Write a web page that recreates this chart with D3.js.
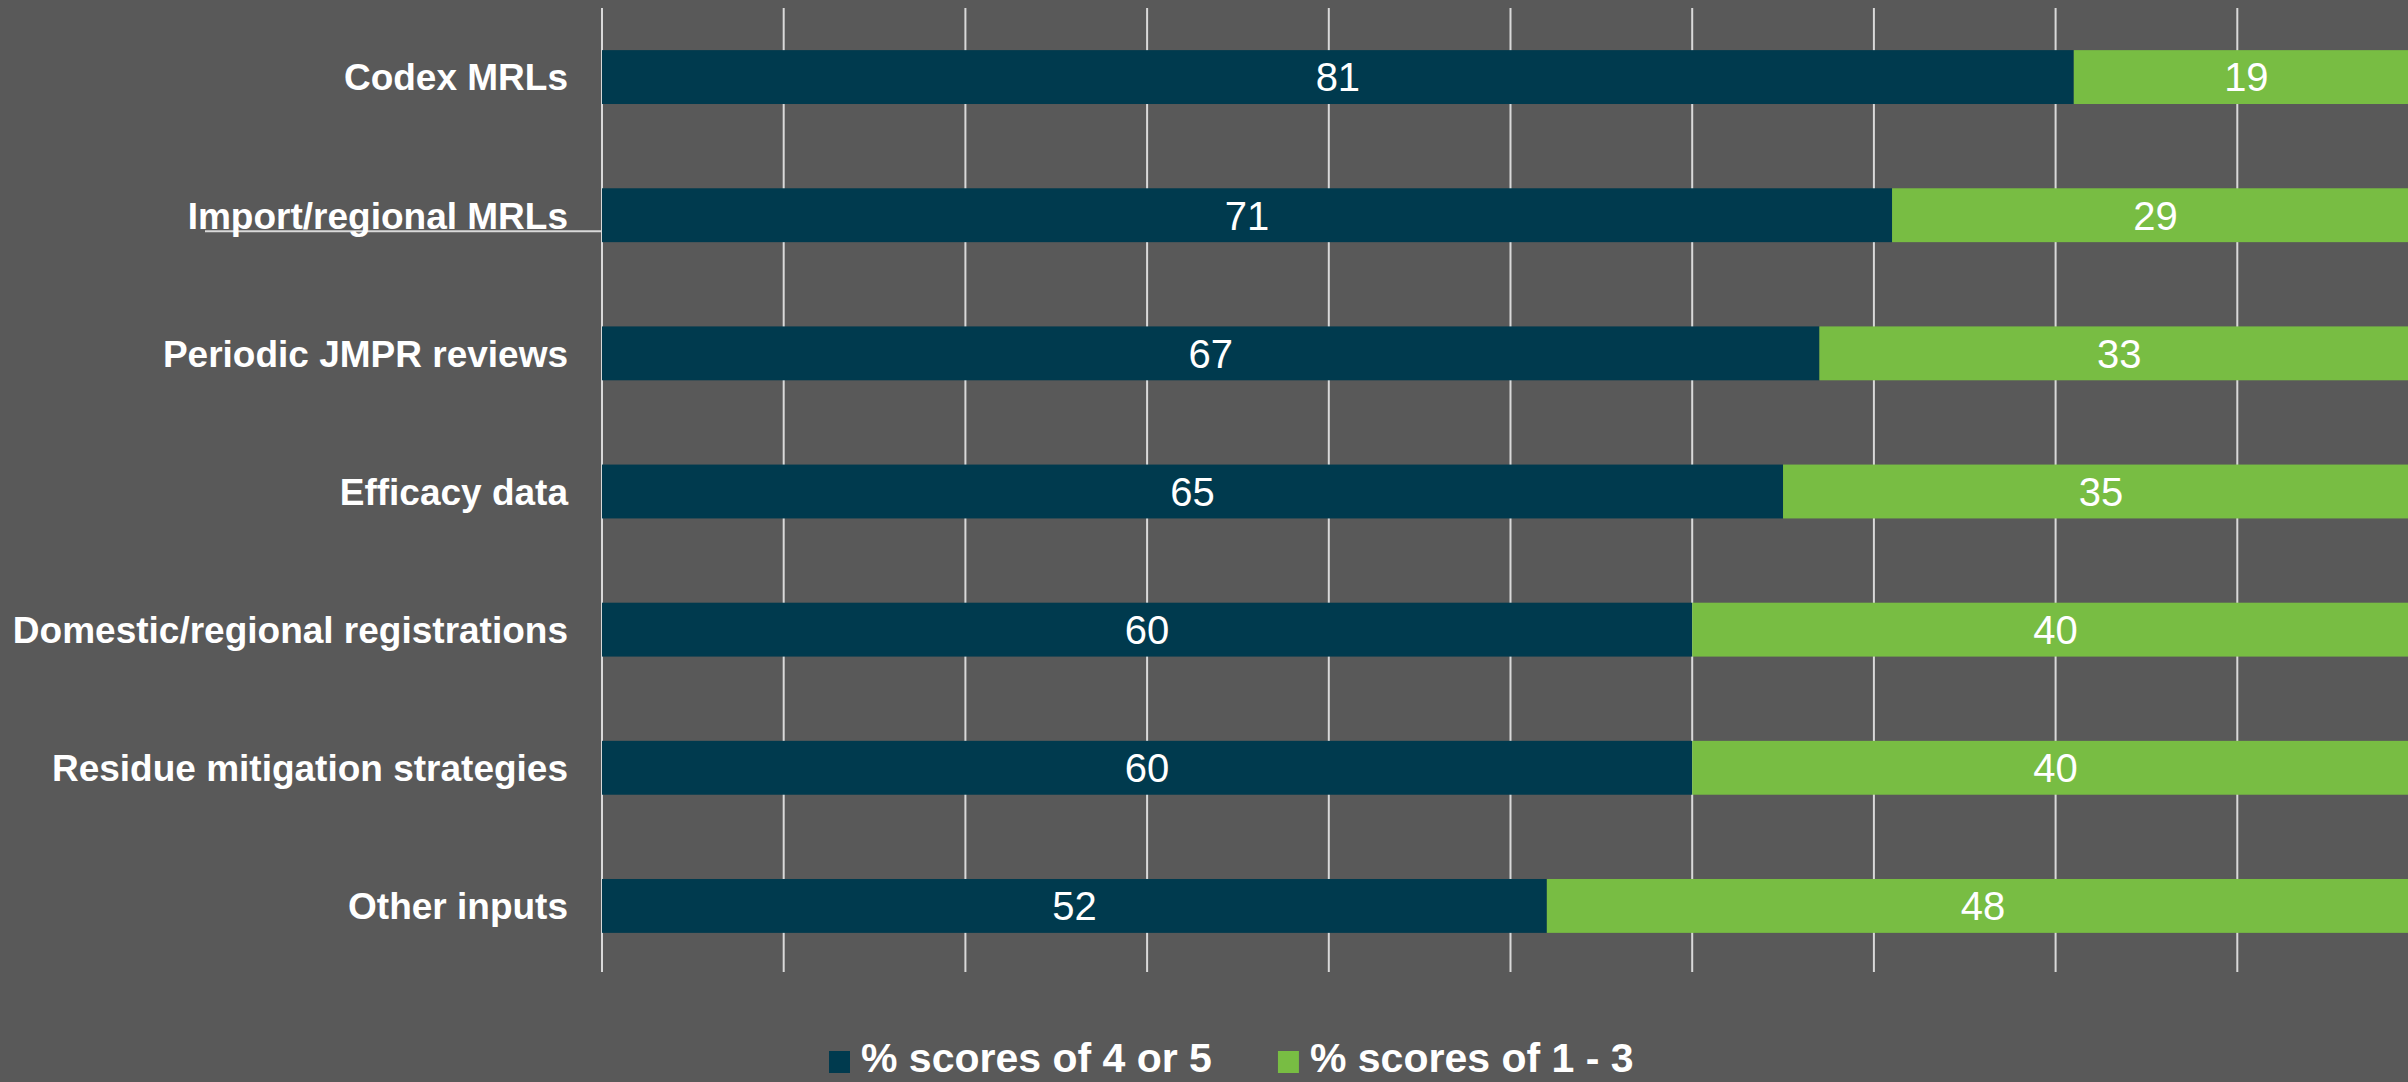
<html>
  <meta charset="utf-8" />
  <script src="https://d3js.org/d3.v7.min.js"></script>
  <style>
    body { margin: 0; background: #595959; }
    text { font-family: "Liberation Sans", Arial, sans-serif; fill: #ffffff; }
  </style>
  <body>
    <svg width="2408" height="1082" id="chart"></svg>

    <script>
      const categories = [
        "Codex MRLs",
        "Import/regional MRLs",
        "Periodic JMPR reviews",
        "Efficacy data",
        "Domestic/regional registrations",
        "Residue mitigation strategies",
        "Other inputs"
      ];
      const seriesNames = ["% scores of 4 or 5", "% scores of 1 - 3"];
      const high = [81, 71, 67, 65, 60, 60, 52];
      const low = [19, 29, 33, 35, 40, 40, 48];
      const gridTicks = [0, 10, 20, 30, 40, 50, 60, 70, 80, 90, 100];

      const colors = ["#003a4e", "#78bd43"];

      const svg = d3.select("#chart");

      svg.append("rect")
        .attr("width", 2408)
        .attr("height", 1082)
        .attr("fill", "#595959");

      const x = d3.scaleLinear().domain([0, 100]).range([602, 2419]);
      const y = d3.scaleBand()
        .domain(categories)
        .range([8, 975])
        .paddingInner(0.61)
        .paddingOuter(0.305);

      const data = categories.map((c, i) => ({ cat: c, high: high[i], low: low[i] }));

      // vertical gridlines
      svg.append("g")
        .selectAll("line")
        .data(gridTicks)
        .enter()
        .append("line")
        .attr("x1", (d) => x(d))
        .attr("x2", (d) => x(d))
        .attr("y1", 8)
        .attr("y2", 972)
        .attr("stroke", "#d9d9d9")
        .attr("stroke-width", 2);

      // stray underline next to the second label
      svg.append("line")
        .attr("x1", 205)
        .attr("x2", x(0))
        .attr("y1", y(categories[1]) + y.bandwidth() / 2 + 16)
        .attr("y2", y(categories[1]) + y.bandwidth() / 2 + 16)
        .attr("stroke", "#d9d9d9")
        .attr("stroke-width", 2);

      const stack = d3.stack().keys(["high", "low"]);
      const layers = stack(data);

      const bars = svg.append("g")
        .selectAll("g")
        .data(layers)
        .enter()
        .append("g")
        .attr("fill", (d, i) => colors[i]);

      bars.selectAll("rect")
        .data((d) => d)
        .enter()
        .append("rect")
        .attr("x", (p) => x(p[0]))
        .attr("y", (p) => y(p.data.cat))
        .attr("width", (p) => x(p[1]) - x(p[0]))
        .attr("height", y.bandwidth());

      bars.selectAll("text")
        .data((d) => d.map((p) => ({ p: p, v: p.data[d.key] })))
        .enter()
        .append("text")
        .attr("x", (d) => (x(d.p[0]) + x(d.p[1])) / 2)
        .attr("y", (d) => y(d.p.data.cat) + y.bandwidth() / 2)
        .attr("dy", "0.36em")
        .attr("text-anchor", "middle")
        .style("font-size", "40px")
        .text((d) => d.v);

      // category labels
      svg.append("g")
        .selectAll("text")
        .data(categories)
        .enter()
        .append("text")
        .attr("x", 568)
        .attr("y", (d) => y(d) + y.bandwidth() / 2)
        .attr("dy", "0.36em")
        .attr("text-anchor", "end")
        .style("font-size", "37px")
        .style("font-weight", "bold")
        .text((d) => d);

      // legend
      const legend = svg.append("g");
      let lx = 829;
      seriesNames.forEach((name, i) => {
        legend.append("rect")
          .attr("x", lx)
          .attr("y", 1051)
          .attr("width", 21)
          .attr("height", 22)
          .attr("fill", colors[i]);
        const t = legend.append("text")
          .attr("x", lx + 32)
          .attr("y", 1072)
          .style("font-size", "41px")
          .style("font-weight", "bold")
          .text(name);
        lx += 32 + t.node().getComputedTextLength() + 66;
      });
    </script>
  </body>
</html>
